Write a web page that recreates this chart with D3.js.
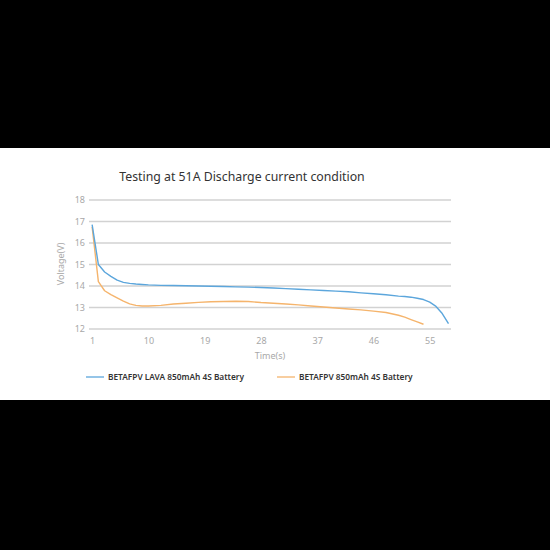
<!DOCTYPE html>
<html>
<head>
<meta charset="utf-8">
<script src="https://cdn.jsdelivr.net/npm/d3@7"></script>
<style>
  html, body { margin: 0; padding: 0; background: #000; }
  svg { display: block; }
  text { font-family: "Noto Sans", "Open Sans", sans-serif; }
</style>
</head>
<body>
<div id="chart"></div>
<script>
const lavaTime = [1, 2, 3, 4, 5, 6, 7, 8, 9, 10, 12, 14, 16, 18, 20, 22, 24, 26, 28, 30, 32, 34, 36, 38, 40, 42, 44, 46, 48, 50, 51, 52, 53, 54, 55, 56, 57, 58];
const lavaVolt = [16.85, 15.0, 14.65, 14.45, 14.27, 14.17, 14.12, 14.09, 14.07, 14.05, 14.03, 14.02, 14.01, 14.0, 13.99, 13.98, 13.96, 13.95, 13.93, 13.91, 13.88, 13.85, 13.82, 13.79, 13.76, 13.73, 13.68, 13.64, 13.59, 13.53, 13.51, 13.48, 13.43, 13.37, 13.25, 13.05, 12.72, 12.25];

const stdTime = [1, 2, 3, 4, 5, 6, 7, 8, 9, 10, 12, 14, 16, 18, 20, 22, 24, 26, 28, 30, 32, 34, 36, 38, 40, 42, 44, 46, 48, 50, 51, 52, 53, 54];
const stdVolt = [16.75, 14.2, 13.78, 13.6, 13.45, 13.3, 13.17, 13.1, 13.07, 13.07, 13.1, 13.16, 13.2, 13.24, 13.27, 13.28, 13.29, 13.28, 13.23, 13.2, 13.16, 13.12, 13.07, 13.02, 12.98, 12.93, 12.89, 12.83, 12.77, 12.64, 12.55, 12.44, 12.33, 12.22];

const xTicks = [1, 10, 19, 28, 37, 46, 55];
const yTicks = [12, 13, 14, 15, 16, 17, 18];

const seriesNames = ['BETAFPV LAVA 850mAh 4S Battery', 'BETAFPV 850mAh 4S Battery'];
const seriesColors = ['#5ca6dc', '#f5b46c'];

const W = 550, H = 550;
const svg = d3.select('#chart').append('svg')
    .attr('width', W)
    .attr('height', H);

// white card in the middle of the black frame
svg.append('rect')
    .attr('x', 0).attr('y', 148)
    .attr('width', W).attr('height', 252)
    .attr('fill', '#fff');

const x = d3.scaleLinear().domain([0.5, 58.4]).range([89, 451]);
const y = d3.scaleLinear().domain([12, 18]).range([329, 200]);

svg.append('text')
    .attr('x', 242).attr('y', 181)
    .attr('text-anchor', 'middle')
    .style('font-size', '12.3px')
    .attr('fill', '#333')
    .text('Testing at 51A Discharge current condition');

// horizontal grid lines
svg.append('g')
    .selectAll('line')
    .data(yTicks)
    .enter().append('line')
    .attr('x1', x.range()[0])
    .attr('x2', x.range()[1])
    .attr('y1', d => y(d))
    .attr('y2', d => y(d))
    .attr('stroke', '#d2d2d2')
    .attr('stroke-width', 1.3);

const yAxis = svg.append('g')
    .attr('transform', 'translate(88,0)')
    .call(d3.axisLeft(y).tickValues(yTicks).tickFormat(d3.format('d')).tickSize(0).tickPadding(3));
yAxis.select('.domain').remove();
yAxis.selectAll('text')
    .attr('fill', '#a8a8a8')
    .style('font-size', '9px');

const xAxis = svg.append('g')
    .attr('transform', 'translate(0,329)')
    .call(d3.axisBottom(x).tickValues(xTicks).tickSize(0).tickPadding(9));
xAxis.select('.domain').remove();
xAxis.selectAll('text')
    .attr('fill', '#a8a8a8')
    .style('font-size', '9px');

svg.append('text')
    .attr('x', 270).attr('y', 359)
    .attr('text-anchor', 'middle')
    .style('font-size', '9px')
    .attr('fill', '#a8a8a8')
    .text('Time(s)');

svg.append('text')
    .attr('transform', 'translate(64,264)rotate(-90)')
    .attr('text-anchor', 'middle')
    .style('font-size', '9px')
    .attr('fill', '#a8a8a8')
    .text('Voltage(V)');

const line = d3.line()
    .x(d => x(d[0]))
    .y(d => y(d[1]));

const series = [
    d3.zip(lavaTime, lavaVolt),
    d3.zip(stdTime, stdVolt)
];

// orange first so the blue sits on top like the original
[1, 0].forEach(i => {
    svg.append('path')
        .datum(series[i])
        .attr('fill', 'none')
        .attr('stroke', seriesColors[i])
        .attr('stroke-width', 1.4)
        .attr('stroke-linejoin', 'round')
        .attr('d', line);
});

const legendX = [86, 277];
const legend = svg.append('g')
    .selectAll('g')
    .data(seriesNames)
    .enter().append('g')
    .attr('transform', (d, i) => 'translate(' + legendX[i] + ',377)');
legend.append('line')
    .attr('x1', 0).attr('x2', 18)
    .attr('stroke', (d, i) => seriesColors[i])
    .attr('stroke-width', 1.3);
legend.append('text')
    .attr('x', 22).attr('y', 3)
    .style('font-size', '8.3px')
    .style('font-weight', 600)
    .attr('fill', '#333')
    .text(d => d);
</script>
</body>
</html>
